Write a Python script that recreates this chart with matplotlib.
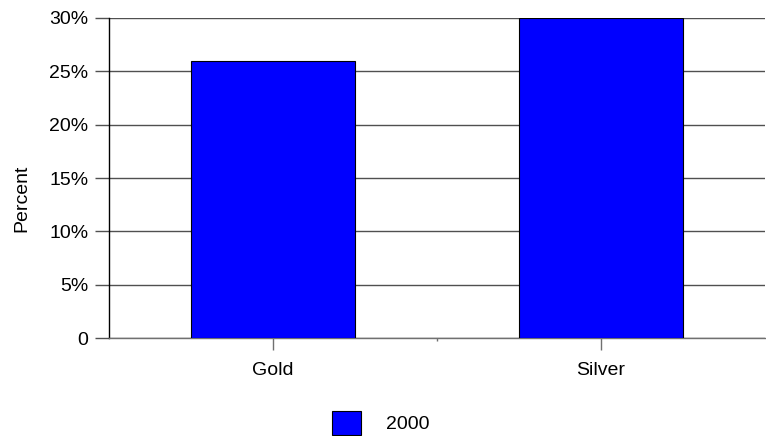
import matplotlib
matplotlib.use("Agg")
import matplotlib.pyplot as plt
from matplotlib.ticker import FuncFormatter, FixedLocator

categories = ["Gold", "Silver"]
values = [26, 30]
series_name = "2000"
yticks = [0, 5, 10, 15, 20, 25, 30]

plt.rcParams['font.family'] = ['Liberation Sans', 'DejaVu Sans']

fig = plt.figure(figsize=(7.66, 4.36), dpi=100)
ax = fig.add_axes([109/766, 1-338/436, (765-109)/766, (338-18)/436])

x = list(range(len(categories)))
ax.bar(x, values, width=0.5, color="#0000FF", edgecolor="black", linewidth=0.8,
       label=series_name, zorder=3)

ax.set_xlim(-0.5, len(categories) - 0.5)
ax.set_ylim(0, 30)
ax.set_yticks(yticks)
ax.yaxis.set_major_formatter(FuncFormatter(lambda v, p: "0" if v == 0 else f"{int(v)}%"))
ax.yaxis.grid(True, color="#505050", linewidth=1, zorder=0)
ax.set_axisbelow(True)

ax.set_xticks(x)
ax.set_xticklabels(categories, fontsize=14)
ax.xaxis.set_minor_locator(FixedLocator([0.5]))
ax.tick_params(axis="x", which="major", length=8.5, width=1, color="#707070", pad=8.5)
ax.tick_params(axis="x", which="minor", length=2, width=1, color="#707070")
ax.tick_params(axis="y", length=10, width=1, color="#505050", labelsize=14, pad=5)

for s in ["top", "right"]:
    ax.spines[s].set_visible(False)
ax.spines["left"].set_color("black")
ax.spines["left"].set_linewidth(1)
ax.spines["bottom"].set_color("#707070")
ax.spines["bottom"].set_linewidth(1)

ax.set_ylabel("Percent", fontsize=14)
ax.yaxis.set_label_coords((30 - 109) / 656, (338 - 198) / 320)

fig.legend(loc="center", bbox_to_anchor=(381/766, 1-423/436), frameon=False,
           fontsize=14, handlelength=1.5, handleheight=1.5, handletextpad=1.3)

fig.savefig("out.png", dpi=100)
